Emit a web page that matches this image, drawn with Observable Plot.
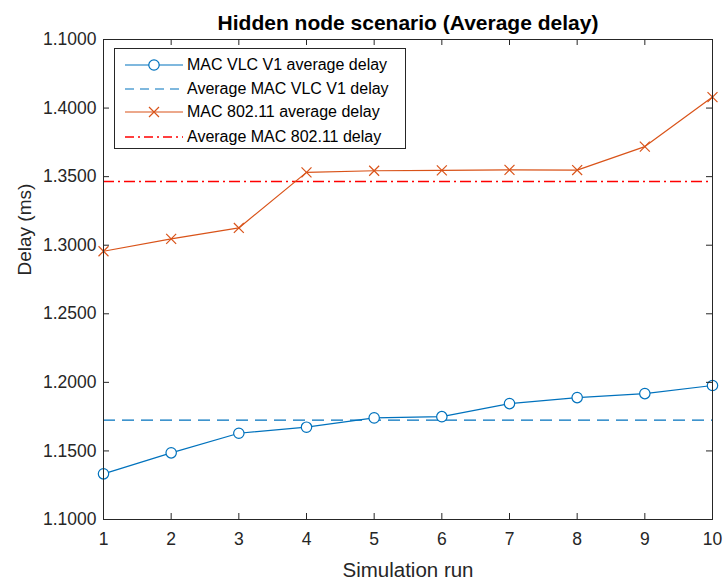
<!DOCTYPE html>
<html>
<head>
<meta charset="utf-8">
<script src="https://cdn.jsdelivr.net/npm/d3@7"></script>
<script src="https://cdn.jsdelivr.net/npm/@observablehq/plot@0.6"></script>
<style>
  html, body { margin: 0; padding: 0; background: #fff; }
  #wrap { position: relative; width: 723px; height: 581px; font-family: "Liberation Sans", Arial, Helvetica, sans-serif; }
  #legend { position: absolute; left: 114px; top: 48px; width: 292px; height: 101px; border: 1px solid #262626; background: #fff; box-sizing: border-box; }
  .row { position: absolute; left: 0; height: 24px; width: 100%; }
  .row svg { position: absolute; left: 10px; top: 0; }
  .row span { position: absolute; left: 72px; top: 2px; font-size: 16px; color: #000; white-space: nowrap; line-height: 20px; }
</style>
</head>
<body>
<div id="wrap"></div>
<script>
// ---- data ----
const runs = [1, 2, 3, 4, 5, 6, 7, 8, 9, 10];
const vlcDelay = [1.1333, 1.1486, 1.1629, 1.1673, 1.1741, 1.1750, 1.1845, 1.1889, 1.1918, 1.1977];
const wifiDelay = [1.2956, 1.3046, 1.3126, 1.3531, 1.3543, 1.3546, 1.3549, 1.3548, 1.3719, 1.4080];
const vlcAverage = [1.1725];
const wifiAverage = [1.3465];
const xTicks = [1, 2, 3, 4, 5, 6, 7, 8, 9, 10];
const yTicks = [1.10, 1.15, 1.20, 1.25, 1.30, 1.35, 1.40, 1.45];
const yTickLabels = ["1.1000", "1.1500", "1.2000", "1.2500", "1.3000", "1.3500", "1.4000", "1.1000"];
const legendLabels = ["MAC VLC V1 average delay", "Average MAC VLC V1 delay", "MAC 802.11 average delay", "Average MAC 802.11 delay"];
const titleText = "Hidden node scenario (Average delay)";
const xLabel = "Simulation run";
const yLabel = "Delay (ms)";

const BLUE = "#0072BD", ORANGE = "#D95319", RED = "#FF0000", AX = "#262626";
const W = 723, H = 581, mT = 39, mB = 62, mL = 103, mR = 11;
const plotH = H - mT - mB, plotW = W - mL - mR;
const TL = 6;

const vlc = runs.map((r, i) => ({run: r, delay: vlcDelay[i]}));
const wifi = runs.map((r, i) => ({run: r, delay: wifiDelay[i]}));

const chart = Plot.plot({
  width: W, height: H,
  marginTop: mT, marginBottom: mB, marginLeft: mL, marginRight: mR,
  style: {fontFamily: '"Liberation Sans", Arial, Helvetica, sans-serif', fontSize: "17.5px", color: AX, background: "#fff"},
  x: {domain: [1, 10]},
  y: {domain: [1.10, 1.45]},
  marks: [
    Plot.ruleY(vlcAverage, {y: d => d, stroke: BLUE, strokeWidth: 1.2, strokeDasharray: "12,7"}),
    Plot.ruleY(wifiAverage, {y: d => d, stroke: RED, strokeWidth: 1.4, strokeDasharray: "11,4,2,4"}),
    Plot.line(vlc, {x: "run", y: "delay", stroke: BLUE, strokeWidth: 1.2}),
    Plot.dot(vlc, {x: "run", y: "delay", symbol: "circle", r: 5.2, stroke: BLUE, fill: "white", strokeWidth: 1.2}),
    Plot.line(wifi, {x: "run", y: "delay", stroke: ORANGE, strokeWidth: 1.2}),
    Plot.dot(wifi, {x: "run", y: "delay", symbol: "times", r: 4.6, stroke: ORANGE, strokeWidth: 1.2}),
    Plot.frame({stroke: AX, strokeWidth: 1}),
    Plot.tickX(xTicks, {x: d => d, insetTop: plotH - TL, stroke: AX}),
    Plot.tickX(xTicks, {x: d => d, insetBottom: plotH - TL, stroke: AX}),
    Plot.tickY(yTicks, {y: d => d, insetRight: plotW - TL, stroke: AX}),
    Plot.tickY(yTicks, {y: d => d, insetLeft: plotW - TL, stroke: AX}),
    Plot.axisX({ticks: xTicks, tickSize: 0, tickPadding: 13, tickFormat: d => String(d), label: null, fill: AX}),
    Plot.axisY({ticks: yTicks, tickSize: 0, tickPadding: 7,
      tickFormat: d => yTickLabels[yTicks.findIndex(t => Math.abs(t - d) < 1e-9)], label: null, fill: AX}),
    Plot.text([titleText], {text: d => d, frameAnchor: "top", dy: -10, lineAnchor: "bottom", fontWeight: "bold", fontSize: 21, fill: "#000"}),
    Plot.text([xLabel], {text: d => d, frameAnchor: "bottom", dy: 57, lineAnchor: "bottom", fontSize: 20.5, fill: AX}),
    Plot.text([yLabel], {text: d => d, frameAnchor: "left", dx: -73, dy: -4, rotate: -90, lineAnchor: "bottom", fontSize: 19, fill: AX})
  ]
});

const wrap = document.getElementById("wrap");
wrap.appendChild(chart);

// legend (HTML overlay)
const legendStyles = [
  {stroke: BLUE, dash: null, marker: "circle"},
  {stroke: BLUE, dash: "9,6", marker: null},
  {stroke: ORANGE, dash: null, marker: "times"},
  {stroke: RED, dash: "9,4,2,4", marker: null}
];
const legend = document.createElement("div");
legend.id = "legend";
const rowTops = [4, 28, 51, 76];
legendLabels.forEach((lab, i) => {
  const st = legendStyles[i];
  const row = document.createElement("div");
  row.className = "row";
  row.style.top = rowTops[i] + "px";
  let svg = `<svg width="58" height="24"><line x1="0" x2="58" y1="12" y2="12" stroke="${st.stroke}" stroke-width="${st.stroke === RED ? 1.4 : 1.2}"${st.dash ? ` stroke-dasharray="${st.dash}"` : ""}/>`;
  if (st.marker === "circle") svg += `<circle cx="29" cy="12" r="5.2" fill="white" stroke="${st.stroke}" stroke-width="1.2"/>`;
  if (st.marker === "times") svg += `<path d="M24,7L34,17M24,17L34,7" stroke="${st.stroke}" stroke-width="1.2"/>`;
  svg += `</svg>`;
  row.innerHTML = svg + `<span>${lab}</span>`;
  legend.appendChild(row);
});
wrap.appendChild(legend);
</script>
</body>
</html>
